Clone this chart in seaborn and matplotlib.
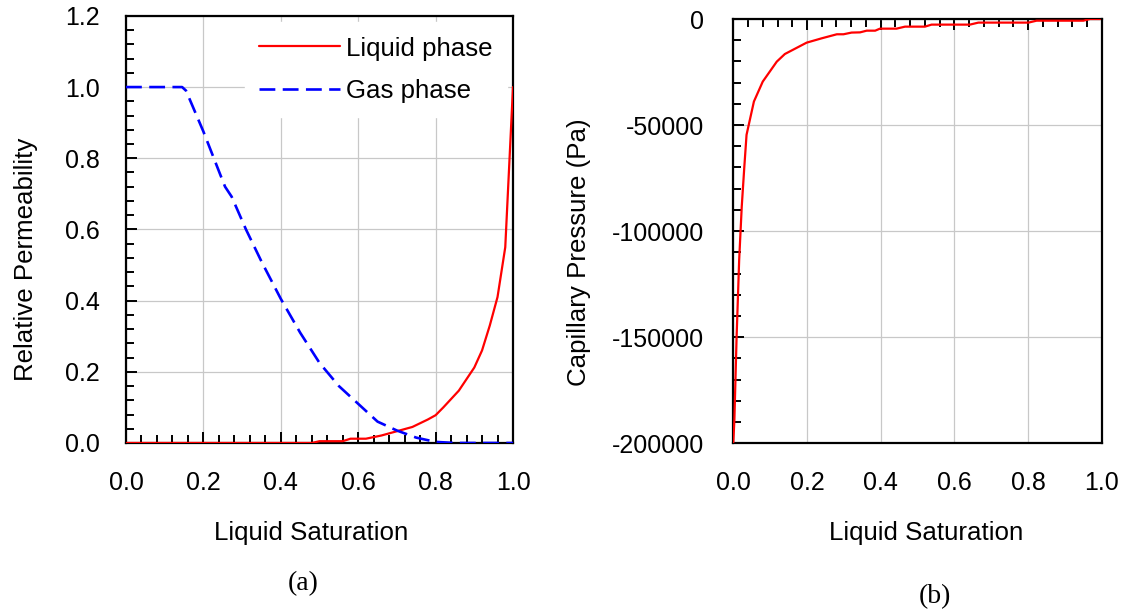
import numpy as np
import pandas as pd
import matplotlib
matplotlib.use("Agg")
import matplotlib.pyplot as plt
from matplotlib.ticker import MultipleLocator, FormatStrFormatter
import seaborn as sns

# ---- data ----
liq_sat = [0.0, 0.48, 0.50, 0.56, 0.58, 0.62, 0.66, 0.70, 0.74, 0.78, 0.80,
           0.82, 0.86, 0.90, 0.92, 0.94, 0.96, 0.98, 1.0]
liq_kr = [0.0, 0.0, 0.005, 0.005, 0.012, 0.012, 0.021, 0.033, 0.045, 0.066, 0.078,
          0.10, 0.147, 0.212, 0.26, 0.33, 0.41, 0.55, 1.0]

gas_sat = [0.0, 0.145, 0.155, 0.20, 0.245, 0.256, 0.273, 0.31, 0.35, 0.40, 0.45,
           0.50, 0.55, 0.60, 0.65, 0.70, 0.75, 0.80, 0.85, 1.0]
gas_kr = [1.0, 1.0, 0.99, 0.875, 0.75, 0.72, 0.692, 0.60, 0.51, 0.405, 0.31,
          0.225, 0.16, 0.11, 0.06, 0.035, 0.015, 0.003, 0.0, 0.0]

pc_sat = [0.0, 0.003, 0.009, 0.016, 0.023, 0.030, 0.036, 0.056, 0.080, 0.118,
          0.140, 0.199, 0.24, 0.281, 0.299, 0.321, 0.344, 0.362, 0.385,
          0.398, 0.443, 0.466, 0.52, 0.538, 0.642, 0.665, 0.801, 0.823, 0.95,
          0.968, 0.995]
pc_val = [-200000, -189000, -150000, -113500, -88400, -69600, -54600, -38900,
          -29500, -20100, -16500, -11150, -9100, -7200, -7200, -6400, -6300,
          -5500, -5500, -4550, -4550, -3600, -3600, -2650, -2650, -1700, -1700,
          -790, -790, 0, 0]

series_names = ["Liquid phase", "Gas phase"]
left_xlabel = "Liquid Saturation"
left_ylabel = "Relative Permeability"
right_xlabel = "Liquid Saturation"
right_ylabel = "Capillary Pressure (Pa)"
panel_labels = ["(a)", "(b)"]

# ---- style ----
sns.set_theme(style="ticks")
plt.rcParams["font.family"] = ["Liberation Sans", "DejaVu Sans"]
plt.rcParams["axes.unicode_minus"] = False
plt.rcParams["text.color"] = "black"
plt.rcParams["axes.labelcolor"] = "black"
plt.rcParams["xtick.color"] = "black"
plt.rcParams["ytick.color"] = "black"
FS_TICK = 18.0
FS_LAB = 18.6

fig = plt.figure(figsize=(11.25, 6.11), dpi=100)
axL = fig.add_axes([0.112, 0.275, 0.344, 0.699])
axR = fig.add_axes([0.6518, 0.2745, 0.3276, 0.6944])

df_kr = pd.concat([
    pd.DataFrame({"sat": liq_sat, "kr": liq_kr, "phase": series_names[0]}),
    pd.DataFrame({"sat": gas_sat, "kr": gas_kr, "phase": series_names[1]}),
])
sns.lineplot(data=df_kr, x="sat", y="kr", hue="phase", style="phase",
             palette={series_names[0]: "#ff0000", series_names[1]: "#0000ff"},
             dashes={series_names[0]: "", series_names[1]: (6, 2.8)},
             estimator=None, sort=False, ax=axL, linewidth=1.6, zorder=3)
for l in axL.get_lines():
    if matplotlib.colors.to_hex(l.get_color()) == "#0000ff":
        l.set_linewidth(1.9)

df_pc = pd.DataFrame({"sat": pc_sat, "pc": pc_val})
sns.lineplot(data=df_pc, x="sat", y="pc", color="#ff0000", estimator=None,
             sort=False, ax=axR, linewidth=1.6, zorder=3)

grid_kw = dict(color="#c8c8c8", linewidth=0.9)

# left axes
axL.set_xlim(0, 1.0)
axL.set_ylim(0, 1.2)
axL.xaxis.set_major_locator(MultipleLocator(0.2))
axL.xaxis.set_minor_locator(MultipleLocator(0.04))
axL.yaxis.set_major_locator(MultipleLocator(0.2))
axL.yaxis.set_minor_locator(MultipleLocator(0.04))
axL.xaxis.set_major_formatter(FormatStrFormatter("%.1f"))
axL.yaxis.set_major_formatter(FormatStrFormatter("%.1f"))
axL.grid(True, which="major", **grid_kw)
axL.set_axisbelow(True)
axL.tick_params(axis="both", which="both", direction="in", colors="black",
                labelsize=FS_TICK, width=1.4)
axL.tick_params(axis="both", which="major", length=8)
axL.tick_params(axis="both", which="minor", length=6)
axL.tick_params(axis="y", which="both", left=True, right=False, pad=19)
axL.tick_params(axis="x", which="both", bottom=True, top=False, pad=20)
axL.set_xlabel(left_xlabel, fontsize=FS_LAB, labelpad=19, x=0.479)
axL.set_ylabel(left_ylabel, fontsize=FS_LAB, labelpad=19, y=0.431)
for s in axL.spines.values():
    s.set_visible(True)
    s.set_color("black")
    s.set_linewidth(1.6)

leg = axL.legend(loc="upper right", bbox_to_anchor=(0.985, 0.985),
                 borderaxespad=0, fontsize=FS_LAB, frameon=True, fancybox=False,
                 framealpha=1, facecolor="white", edgecolor="white",
                 handlelength=3.1, handletextpad=0.27, labelspacing=0.72,
                 borderpad=0.55, title=None)
leg.set_zorder(5)

# right axes
axR.set_xlim(0, 1.0)
axR.set_ylim(-200000, 0)
axR.xaxis.set_major_locator(MultipleLocator(0.2))
axR.xaxis.set_minor_locator(MultipleLocator(0.04))
axR.yaxis.set_major_locator(MultipleLocator(50000))
axR.yaxis.set_minor_locator(MultipleLocator(10000))
axR.xaxis.set_major_formatter(FormatStrFormatter("%.1f"))
axR.yaxis.set_major_formatter(FormatStrFormatter("%d"))
axR.grid(True, which="major", **grid_kw)
axR.set_axisbelow(True)
axR.tick_params(axis="both", which="both", direction="in", colors="black",
                labelsize=FS_TICK, width=1.4)
axR.tick_params(axis="both", which="major", length=8)
axR.tick_params(axis="both", which="minor", length=6)
axR.tick_params(axis="y", which="both", left=True, right=False, pad=21)
axR.tick_params(axis="x", which="both", bottom=False, top=True,
                labelbottom=True, labeltop=False, pad=20)
axR.set_xlabel(right_xlabel, fontsize=FS_LAB, labelpad=19, x=0.523)
axR.set_ylabel(right_ylabel, fontsize=FS_LAB, labelpad=15, y=0.45)
for s in axR.spines.values():
    s.set_visible(True)
    s.set_color("black")
    s.set_linewidth(1.6)

fig.text(303 / 1125, 1 - 584 / 611, panel_labels[0], ha="center", va="center",
         fontsize=20, family=["Liberation Serif", "DejaVu Serif"])
fig.text(935 / 1125, 1 - 597 / 611, panel_labels[1], ha="center", va="center",
         fontsize=20, family=["Liberation Serif", "DejaVu Serif"])

fig.savefig("out.png", dpi=100, facecolor="white")
